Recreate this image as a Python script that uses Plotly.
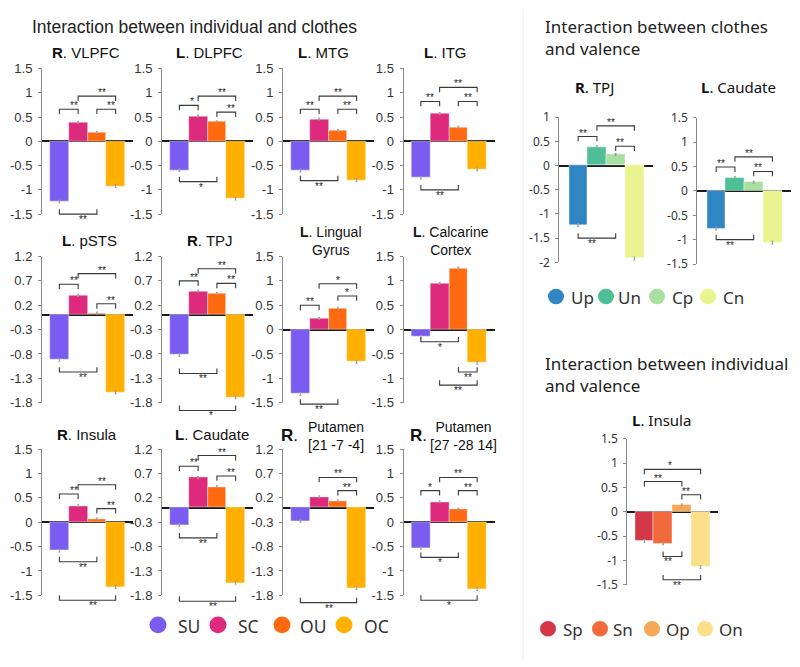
import plotly.graph_objects as go

W, H = 800, 667

# ---------------- data ----------------
ic_categories = ["SU", "SC", "OU", "OC"]
cv_categories = ["Up", "Un", "Cp", "Cn"]
iv_categories = ["Sp", "Sn", "Op", "On"]

ic_colors = ["#7A5CF0", "#DE2A7C", "#FF6A10", "#FFB000"]
cv_colors = ["#2F86C2", "#4FBF98", "#A9DFA0", "#E9F48F"]
iv_colors = ["#D43848", "#F26A3C", "#F5A957", "#FBDF8A"]

r_vlpfc = [-1.24, 0.39, 0.18, -0.92]
l_dlpfc = [-0.59, 0.52, 0.40, -1.18]
l_mtg = [-0.60, 0.46, 0.22, -0.80]
l_itg = [-0.75, 0.57, 0.29, -0.58]
l_psts = [-0.92, 0.40, 0.04, -1.59]
r_tpj_ic = [-0.82, 0.49, 0.44, -1.69]
l_lingual = [-1.32, 0.23, 0.44, -0.66]
l_calcarine = [-0.15, 0.95, 1.26, -0.68]
r_insula = [-0.58, 0.34, 0.07, -1.33]
l_caudate_ic = [-0.35, 0.62, 0.43, -1.54]
r_putamen_a = [-0.27, 0.22, 0.14, -1.65]
r_putamen_b = [-0.53, 0.42, 0.27, -1.37]
r_tpj_cv = [-1.23, 0.39, 0.23, -1.92]
l_caudate_cv = [-0.77, 0.27, 0.18, -1.06]
l_insula_iv = [-0.60, -0.66, 0.14, -1.14]

err_small = [0.03, 0.02, 0.02, 0.03]

ticks_a = [1.5, 1, 0.5, 0, -0.5, -1, -1.5]
ticks_a_text = ["1.5", "1", "0.5", "0", "-0.5", "-1", "-1.5"]
ticks_b = [1.2, 0.7, 0.2, -0.3, -0.8, -1.3, -1.8]
ticks_b_text = ["1.2", "0.7", "0.2", "-0.3", "-0.8", "-1.3", "-1.8"]
ticks_c = [1, 0.5, 0, -0.5, -1, -1.5, -2]
ticks_c_text = ["1", "0.5", "0", "-0.5", "-1", "-1.5", "-2"]

# significance brackets: (from bar, to bar, level, side, label)
br_vlpfc = [(0, 1, 0.66, "top", "**"), (1, 3, 0.93, "top", "**"), (2, 3, 0.66, "top", "**"), (0, 2, -1.50, "bot", "**")]
br_dlpfc = [(0, 1, 0.74, "top", "*"), (1, 3, 0.93, "top", "**"), (2, 3, 0.60, "top", "**"), (0, 2, -0.83, "bot", "*")]
br_mtg = [(0, 1, 0.66, "top", "**"), (1, 3, 0.93, "top", "**"), (2, 3, 0.66, "top", "**"), (0, 2, -0.81, "bot", "**")]
br_itg = [(0, 1, 0.82, "top", "**"), (1, 3, 1.11, "top", "**"), (2, 3, 0.82, "top", "**"), (0, 2, -1.00, "bot", "**")]
br_psts = [(0, 1, 0.63, "top", "**"), (1, 3, 0.85, "top", "**"), (2, 3, 0.23, "top", "**"), (0, 2, -1.17, "bot", "**")]
br_tpj_ic = [(0, 1, 0.70, "top", "**"), (1, 3, 0.95, "top", "**"), (2, 3, 0.65, "top", "**"), (0, 2, -1.20, "bot", "**"), (0, 3, -1.96, "bot", "*")]
br_lingual = [(0, 1, 0.50, "top", "**"), (1, 3, 0.94, "top", "*"), (2, 3, 0.69, "top", "*"), (0, 2, -1.53, "bot", "**")]
br_calcarine = [(0, 2, -0.25, "bot", "*"), (2, 3, -0.87, "bot", "**"), (1, 3, -1.14, "bot", "**")]
br_insula = [(0, 1, 0.58, "top", "**"), (1, 3, 0.77, "top", "**"), (2, 3, 0.28, "top", "**"), (0, 2, -0.81, "bot", "**"), (0, 3, -1.60, "bot", "**")]
br_caudate_ic = [(0, 1, 0.85, "top", "**"), (1, 3, 1.07, "top", "**"), (2, 3, 0.65, "top", "**"), (0, 2, -0.62, "bot", "**"), (0, 3, -1.92, "bot", "**")]
br_putamen_a = [(1, 3, 0.62, "top", "**"), (2, 3, 0.35, "top", "**"), (0, 3, -1.95, "bot", "**")]
br_putamen_b = [(0, 1, 0.65, "top", "*"), (1, 3, 0.92, "top", "**"), (2, 3, 0.65, "top", "**"), (0, 2, -0.72, "bot", "*"), (0, 3, -1.60, "bot", "*")]
br_tpj_cv = [(0, 1, 0.60, "top", "**"), (1, 3, 0.82, "top", "**"), (2, 3, 0.40, "top", "**"), (0, 2, -1.50, "bot", "**")]
br_caudate_cv = [(0, 1, 0.49, "top", "**"), (1, 3, 0.70, "top", "**"), (2, 3, 0.40, "top", "**"), (0, 2, -1.00, "bot", "**")]
br_insula_iv = [(0, 3, 0.87, "top", "*"), (0, 2, 0.62, "top", "**"), (2, 3, 0.35, "top", "**"), (1, 2, -0.92, "bot", "**"), (1, 3, -1.40, "bot", "**")]

LEFT_FONT = "Liberation Sans, Arial, sans-serif"
RIGHT_FONT = "Noto Sans, Open Sans, sans-serif"

# panel geometry in pixels: axis x, pad, top, bottom
panels = [
    dict(cats=ic_categories, vals=r_vlpfc, cols=ic_colors, br=br_vlpfc, ax=42, pad=8, top=61, bot=210.5, rng=(-1.5, 1.5), tv=ticks_a, tt=ticks_a_text, f=LEFT_FONT, fs=13),
    dict(cats=ic_categories, vals=l_dlpfc, cols=ic_colors, br=br_dlpfc, ax=162, pad=8, top=61, bot=210.5, rng=(-1.5, 1.5), tv=ticks_a, tt=ticks_a_text, f=LEFT_FONT, fs=13),
    dict(cats=ic_categories, vals=l_mtg, cols=ic_colors, br=br_mtg, ax=283, pad=8, top=61, bot=210.5, rng=(-1.5, 1.5), tv=ticks_a, tt=ticks_a_text, f=LEFT_FONT, fs=13),
    dict(cats=ic_categories, vals=l_itg, cols=ic_colors, br=br_itg, ax=403.5, pad=8, top=61, bot=210.5, rng=(-1.5, 1.5), tv=ticks_a, tt=ticks_a_text, f=LEFT_FONT, fs=13),
    dict(cats=ic_categories, vals=l_psts, cols=ic_colors, br=br_psts, ax=42, pad=8, top=254, bot=404, rng=(-1.8, 1.2), tv=ticks_b, tt=ticks_b_text, f=LEFT_FONT, fs=13),
    dict(cats=ic_categories, vals=r_tpj_ic, cols=ic_colors, br=br_tpj_ic, ax=162, pad=8, top=254, bot=404, rng=(-1.8, 1.2), tv=ticks_b, tt=ticks_b_text, f=LEFT_FONT, fs=13),
    dict(cats=ic_categories, vals=l_lingual, cols=ic_colors, br=br_lingual, ax=283, pad=8, top=254, bot=404, rng=(-1.5, 1.5), tv=ticks_a, tt=ticks_a_text, f=LEFT_FONT, fs=13),
    dict(cats=ic_categories, vals=l_calcarine, cols=ic_colors, br=br_calcarine, ax=403.5, pad=8, top=254, bot=404, rng=(-1.5, 1.5), tv=ticks_a, tt=ticks_a_text, f=LEFT_FONT, fs=13),
    dict(cats=ic_categories, vals=r_insula, cols=ic_colors, br=br_insula, ax=42, pad=8, top=451.7, bot=601.7, rng=(-1.5, 1.5), tv=ticks_a, tt=ticks_a_text, f=LEFT_FONT, fs=13),
    dict(cats=ic_categories, vals=l_caudate_ic, cols=ic_colors, br=br_caudate_ic, ax=162, pad=8, top=451.7, bot=601.7, rng=(-1.8, 1.2), tv=ticks_b, tt=ticks_b_text, f=LEFT_FONT, fs=13),
    dict(cats=ic_categories, vals=r_putamen_a, cols=ic_colors, br=br_putamen_a, ax=283, pad=8, top=451.7, bot=601.7, rng=(-1.8, 1.2), tv=ticks_b, tt=ticks_b_text, f=LEFT_FONT, fs=13),
    dict(cats=ic_categories, vals=r_putamen_b, cols=ic_colors, br=br_putamen_b, ax=403.5, pad=8, top=451.7, bot=601.7, rng=(-1.5, 1.5), tv=ticks_a, tt=ticks_a_text, f=LEFT_FONT, fs=13),
    dict(cats=cv_categories, vals=r_tpj_cv, cols=cv_colors, br=br_tpj_cv, ax=559.3, pad=9.5, top=111, bot=260, rng=(-2, 1), tv=ticks_c, tt=ticks_c_text, f=RIGHT_FONT, fs=12),
    dict(cats=cv_categories, vals=l_caudate_cv, cols=cv_colors, br=br_caudate_cv, ax=697.3, pad=9.5, top=111.7, bot=261.7, rng=(-1.5, 1.5), tv=ticks_a, tt=ticks_a_text, f=RIGHT_FONT, fs=12),
    dict(cats=iv_categories, vals=l_insula_iv, cols=iv_colors, br=br_insula_iv, ax=627.3, pad=7.7, top=441, bot=590.7, rng=(-1.5, 1.5), tv=ticks_a, tt=ticks_a_text, f=RIGHT_FONT, fs=12),
]

BW = 18.75  # bar width in px


def pxx(px):
    return px / W


def pxy(py):
    return 1 - py / H


fig = go.Figure()
annotations = []
shapes = []
layout_axes = {}

TK = 0.1  # bracket end-tick length (data units)

for n, p in enumerate(panels, start=1):
    xs = "" if n == 1 else str(n)
    xr, yr = "x" + xs, "y" + xs
    idx = list(range(len(p["cats"])))
    fig.add_trace(go.Bar(
        x=idx, y=p["vals"], hovertext=p["cats"], xaxis=xr, yaxis=yr,
        marker=dict(color=p["cols"], line=dict(color="rgba(255,255,255,0.7)", width=0.6)),
        width=1.0, showlegend=False,
        error_y=dict(type="data", array=err_small, color="#9a9a9a", thickness=1, width=1),
    ))
    x0px = p["ax"]
    x1px = p["ax"] + 2 * p["pad"] + 4 * BW
    padu = p["pad"] / BW
    xrange = [-0.5 - padu, 3.5 + padu]
    layout_axes["xaxis" + xs] = dict(
        domain=[pxx(x0px), pxx(x1px)], range=xrange,
        visible=False, anchor=yr, fixedrange=True,
    )
    layout_axes["yaxis" + xs] = dict(
        domain=[pxy(p["bot"]), pxy(p["top"])], range=list(p["rng"]),
        anchor=xr, showgrid=False, showline=True, linecolor="#8a8a8a", linewidth=1,
        zeroline=True, zerolinecolor="#1a1a1a", zerolinewidth=1.5,
        ticks="outside", ticklen=3, tickcolor="#8a8a8a", tickwidth=1,
        tickvals=p["tv"], ticktext=p["tt"], ticklabelstandoff=3,
        tickfont=dict(family=p["f"], size=p["fs"], color="#333333"),
        fixedrange=True,
    )

    # map axis values to paper coords (same linear scale as the axes above),
    # so brackets drawn below an axis' range are not clipped away
    r0, r1 = p["rng"]

    def to_paper(xv, yv, p=p, r0=r0, r1=r1, xrange=xrange, x0px=x0px, x1px=x1px):
        fx = (xv - xrange[0]) / (xrange[1] - xrange[0])
        fy = (yv - r0) / (r1 - r0)
        px = x0px + fx * (x1px - x0px)
        py = p["bot"] - fy * (p["bot"] - p["top"])
        return pxx(px), pxy(py)

    for (i, j, lvl, side, lab) in p["br"]:
        end = lvl - TK if side == "top" else lvl + TK
        pts = [to_paper(i, end), to_paper(i, lvl), to_paper(j, lvl), to_paper(j, end)]
        path = "M " + " L ".join(f"{a:.5f},{b:.5f}" for a, b in pts)
        shapes.append(dict(type="path", xref="paper", yref="paper", path=path,
                           line=dict(color="#3a3a3a", width=1.1)))
        mx, my = to_paper((i + j) / 2, lvl)
        annotations.append(dict(
            x=mx, y=my, xref="paper", yref="paper", text=lab, showarrow=False,
            yanchor="bottom" if side == "top" else "top",
            yshift=-3 if side == "top" else 1, borderpad=0,
            font=dict(family=LEFT_FONT, size=10, color="#222222"),
        ))


def px_text(text, x, y, size, family, xanchor="center", color="#111111"):
    annotations.append(dict(
        x=pxx(x), y=pxy(y), xref="paper", yref="paper", text=text, showarrow=False,
        xanchor=xanchor, yanchor="middle", font=dict(family=family, size=size, color=color),
    ))


# section headings
px_text("Interaction between individual and clothes", 30, 18, 17.5, LEFT_FONT, "left", "#222222")
px_text("Interaction between clothes", 543, 18, 17, RIGHT_FONT, "left", "#222222")
px_text("and valence", 543, 41, 17, RIGHT_FONT, "left", "#222222")
px_text("Interaction between individual", 543, 364, 17, RIGHT_FONT, "left", "#222222")
px_text("and valence", 543, 386, 17, RIGHT_FONT, "left", "#222222")

# panel titles
px_text("<b>R</b>. VLPFC", 86, 45, 15, LEFT_FONT)
px_text("<b>L</b>. DLPFC", 209, 45, 15, LEFT_FONT)
px_text("<b>L</b>. MTG", 323, 45, 15, LEFT_FONT)
px_text("<b>L</b>. ITG", 445, 45, 15, LEFT_FONT)
px_text("<b>L</b>. pSTS", 89, 238, 15, LEFT_FONT)
px_text("<b>R</b>. TPJ", 210, 238, 15, LEFT_FONT)
px_text("<b>L</b>. Lingual<br>Gyrus", 331, 238.5, 14, LEFT_FONT)
px_text("<b>L</b>. Calcarine<br>Cortex", 451, 238.5, 14, LEFT_FONT)
px_text("<b>R</b>. Insula", 87, 437, 15, LEFT_FONT)
px_text("<b>L</b>. Caudate", 212, 437, 15, LEFT_FONT)
px_text("<b>R</b>.", 289, 438, 17, LEFT_FONT)
px_text("Putamen<br>[21 -7 -4]", 336, 438.5, 14, LEFT_FONT)
px_text("<b>R</b>.", 418, 438, 17, LEFT_FONT)
px_text("Putamen<br>[27 -28 14]", 463, 438.5, 14, LEFT_FONT)
px_text("<b>R</b>. TPJ", 594, 80, 15, RIGHT_FONT)
px_text("<b>L</b>. Caudate", 738, 80, 15, RIGHT_FONT)
px_text("<b>L</b>. Insula", 661, 422, 15, RIGHT_FONT)


# legends (circle + label)
def legend_row(cats, cols, cxs, txs, cy, r, size):
    for c, col, cx, tx in zip(cats, cols, cxs, txs):
        shapes.append(dict(type="circle", xref="paper", yref="paper",
                           x0=pxx(cx - r), x1=pxx(cx + r), y0=pxy(cy + r), y1=pxy(cy - r),
                           fillcolor=col, line=dict(width=0)))
        px_text(c, tx, cy + 1, size, RIGHT_FONT, "left", "#333333")


legend_row(ic_categories, ic_colors, [158, 218, 282, 344], [176, 236, 298, 362], 632, 8.5, 17.5)
legend_row(cv_categories, cv_colors, [556, 606, 657, 708], [569, 616, 670, 721], 295, 8, 17)
legend_row(iv_categories, iv_colors, [548, 600, 652, 705], [561, 611, 664, 717], 636, 8, 17)

# faint separator
shapes.append(dict(type="line", xref="paper", yref="paper", x0=pxx(523), x1=pxx(523), y0=0, y1=1,
                   line=dict(color="#f0f0f0", width=1)))

fig.update_layout(
    width=W, height=H, autosize=False,
    margin=dict(l=0, r=0, t=0, b=0),
    paper_bgcolor="white", plot_bgcolor="rgba(0,0,0,0)",
    bargap=0, barmode="group",
    showlegend=False,
    annotations=annotations, shapes=shapes,
    **layout_axes,
)

# make the figure fill the 800x667 window exactly (no default page margin)
page_fix = (
    "document.documentElement.style.margin='0';document.documentElement.style.padding='0';"
    "document.body.style.margin='0';document.body.style.padding='0';"
    "document.documentElement.style.overflow='hidden';document.body.style.overflow='hidden';"
)

fig.write_html("out.html", post_script=page_fix, config={"displayModeBar": False})
